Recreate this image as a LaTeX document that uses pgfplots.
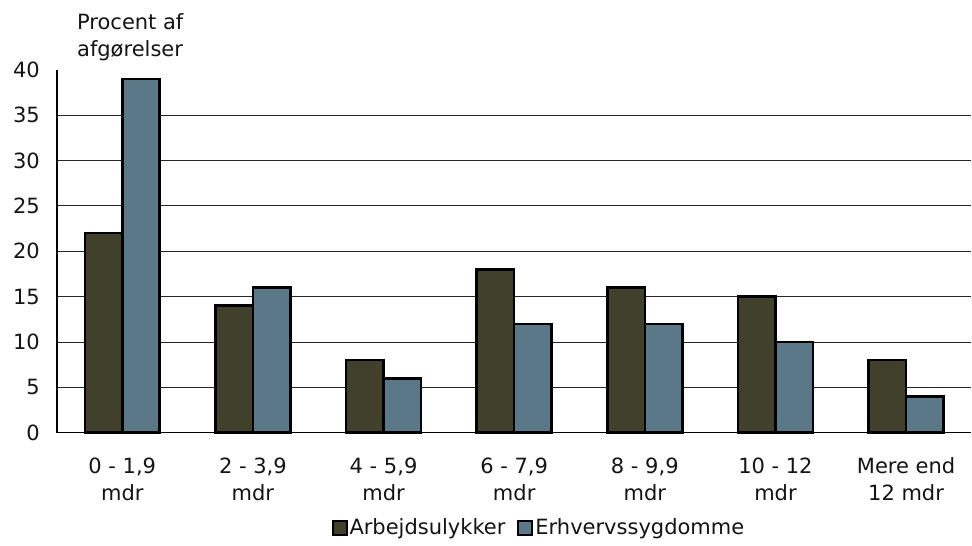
\documentclass[border=0pt]{standalone}
\usepackage{pgfplots}
\pgfplotsset{compat=1.18}
\usepackage{fontspec}
\setmainfont{DejaVu Sans}
\definecolor{arbejd}{RGB}{64,64,45}
\definecolor{erhverv}{RGB}{91,120,137}
\definecolor{txt}{RGB}{20,20,20}
\begin{document}
\fontsize{21}{27}\selectfont
\begin{tikzpicture}
\begin{axis}[
    width=915pt, height=363pt, scale only axis,
    clip=false,
    ybar=0pt, bar width=37.5pt,
    xmin=-0.5, xmax=6.5, ymin=0, ymax=40,
    axis lines*=left,
    axis line style={black, line width=1.2pt},
    xtick={0,...,6},
    xticklabels={{0 - 1,9\\mdr},{2 - 3,9\\mdr},{4 - 5,9\\mdr},{6 - 7,9\\mdr},{8 - 9,9\\mdr},{10 - 12\\mdr},{Mere end\\12 mdr}},
    ytick={0,5,...,40},
    extra y ticks={5,10,...,35},
    extra y tick labels={},
    extra y tick style={ymajorgrids=true, major tick length=0pt},
    major grid style={black!85, line width=1pt},
    major tick length=0pt,
    /pgf/number format/assume math mode=true,
    tick label style={font=\fontsize{21}{27}\selectfont, text=txt},
    x tick label style={align=center, yshift=-18pt},
    y tick label style={xshift=-10pt},
    legend style={at={(0.527,-0.23)}, anchor=north, draw=none, fill=none,
        legend columns=2, font=\fontsize{21}{27}\selectfont, text=txt,
        /tikz/every even column/.append style={column sep=10pt},
        inner sep=0pt},
    legend image code/.code={%
        \draw[#1, line width=2pt] (0pt,-7pt) rectangle (14pt,7pt);},
    every axis plot/.append style={draw=black, line width=2.6pt},
]
\addplot[fill=arbejd] coordinates {(0,22) (1,14) (2,8) (3,18) (4,16) (5,15) (6,8)};
\addplot[fill=erhverv] coordinates {(0,39) (1,16) (2,6) (3,12) (4,12) (5,10) (6,4)};
\legend{Arbejdsulykker, Erhvervssygdomme}
\node[anchor=south west, align=left, inner sep=0pt, text=txt]
    at (rel axis cs:0,1) [xshift=20pt, yshift=9pt] {Procent af\\afgørelser};
\path (rel axis cs:0,1) ++(-57pt,70pt) coordinate (bbtop);
\path (rel axis cs:0,0) ++(0,-113pt) coordinate (bbbot);
\end{axis}
\end{tikzpicture}
\end{document}
